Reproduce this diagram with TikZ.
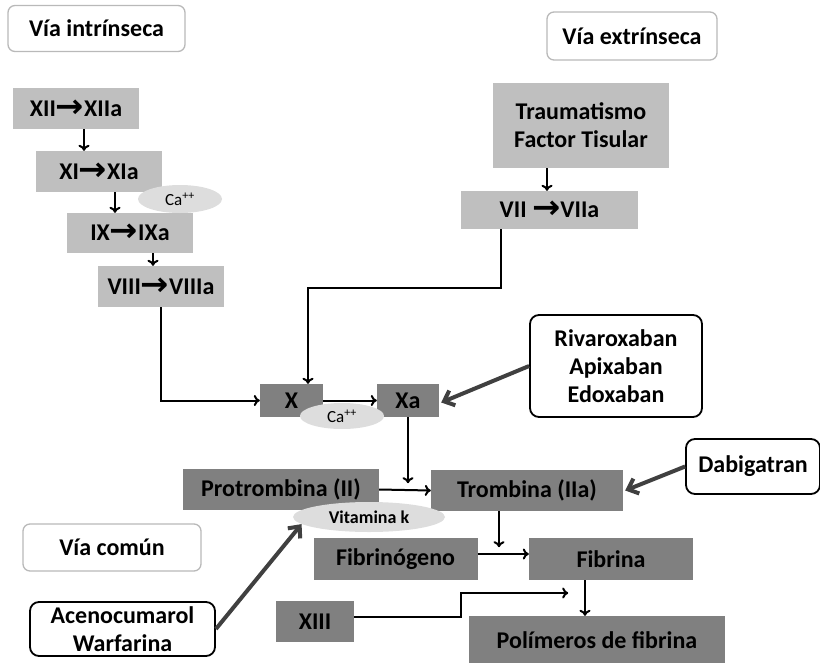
\documentclass[tikz,border=0pt]{standalone}
\usepackage{fontspec}
\setmainfont{Carlito}
\newfontfamily\arrowfont{DejaVu Sans}
\usetikzlibrary{arrows.meta,shapes.geometric}
\definecolor{boxlight}{HTML}{BFBFBF}
\definecolor{boxdark}{HTML}{808080}
\definecolor{cafill}{HTML}{DDDDDD}
\definecolor{drugarrow}{HTML}{404040}
\newcommand{\ra}{{\arrowfont\bfseries\fontsize{26}{26}\selectfont\raisebox{-1pt}{\scalebox{1.3}[1.25]{→}}}}
\tikzset{
  lbl/.style={font=\bfseries\fontsize{24}{28}\selectfont,inner sep=0pt,align=center},
  lightbox/.style={lbl,fill=boxlight},
  darkbox/.style={lbl,fill=boxdark},
  viabox/.style={lbl,draw=gray!55,line width=1.3pt,rounded corners=7pt},
  drugbox/.style={lbl,draw=black,line width=1.8pt,rounded corners=9pt},
  cofactor/.style={ellipse,fill=cafill,inner sep=0pt,font=\fontsize{17}{19}\selectfont},
  flow/.style={-{To[length=6pt,width=11pt]},line width=2pt},
  block/.style={-{Straight Barb[length=9pt,width=16pt]},line width=4pt,draw=drugarrow}
}
\begin{document}
\begin{tikzpicture}[x=1pt,y=-1pt]
\useasboundingbox (0,0) rectangle (820,662);
%titles
\node[viabox,minimum width=177pt,minimum height=46pt] (intr) at (96.5,28.5) {Vía intrínseca};
\node[viabox,minimum width=170pt,minimum height=48pt] (extr) at (632,36) {Vía extrínseca};
\node[viabox,minimum width=178pt,minimum height=47pt] (comun) at (112,547.5) {Vía común};
%
%intrinsic cascade
\node[lightbox,minimum width=126pt,minimum height=41pt] (xii) at (76,108.5) {XII\ra XIIa};
\node[lightbox,minimum width=126pt,minimum height=41pt] (xi) at (99,171.5) {XI\ra XIa};
\node[lightbox,minimum width=126pt,minimum height=40pt] (ix) at (130,233) {IX\ra IXa};
\node[lightbox,minimum width=126pt,minimum height=41pt] (viii) at (161,286.5) {VIII\ra VIIIa};
\node[cofactor,minimum width=84pt,minimum height=28pt] (caA) at (180,199) {Ca\textsuperscript{++}};
\draw[flow] ([xshift=8pt]xii.south) -- ([xshift=8pt]xii.south |- xi.north);
\draw[flow] ([xshift=16pt]xi.south) -- ([xshift=16pt]xi.south |- ix.north);
\draw[flow] ([xshift=23pt]ix.south) -- ([xshift=23pt]ix.south |- viii.north);
%
%extrinsic
\node[lightbox,minimum width=176pt,minimum height=85pt] (trauma) at (581,125.5) {Traumatismo\\Factor Tisular};
\node[lightbox,minimum width=177pt,minimum height=38pt] (vii) at (549.5,210) {VII \ra VIIa};
\draw[flow] ([xshift=-34pt]trauma.south) -- ([xshift=-34pt]trauma.south |- vii.north);
%
%common pathway
\node[darkbox,minimum width=63pt,minimum height=33pt] (x) at (291.5,400.5) {X};
\node[darkbox,minimum width=62pt,minimum height=33pt] (xa) at (408,400.5) {Xa};
\node[cofactor,minimum width=84pt,minimum height=26pt] (caB) at (342,416) {Ca\textsuperscript{++}};
\draw[flow] (viii.south) |- (x.west);
\draw[flow] ([xshift=-48.5pt]vii.south) |- ([xshift=16.5pt]x.north |- 0,288) -- ([xshift=16.5pt]x.north);
\draw[flow] (x.east) -- (xa.west);
%
\node[darkbox,minimum width=196pt,minimum height=41pt] (protro) at (281,489.5) {Protrombina (II)};
\node[darkbox,minimum width=192pt,minimum height=41pt] (tromb) at (527,490.5) {Trombina (IIa)};
\node[cofactor,minimum width=152pt,minimum height=30pt,font=\bfseries\fontsize{18}{20}\selectfont] (vitk) at (369,517) {Vitamina k};
\draw[flow] (protro.east) -- (tromb.west);
\draw[flow] (xa.south) -- ++(0,66) coordinate (xaEnd);
%
\node[darkbox,minimum width=164pt,minimum height=42pt] (fbg) at (395.5,559) {Fibrinógeno};
\node[darkbox,minimum width=164pt,minimum height=42pt] (fbn) at (611,559) {Fibrina};
\node[darkbox,minimum width=78pt,minimum height=41pt] (xiii) at (315,621.5) {XIII};
\node[darkbox,minimum width=256pt,minimum height=48pt] (polim) at (597,640) {Polímeros de fibrina};
\draw[flow] ([xshift=-28pt]tromb.south) -- ++(0,36) coordinate (trEnd);
\draw[flow] ([yshift=5pt]fbg.east) -- ([yshift=5pt]fbn.west);
\draw[flow] ([yshift=4.5pt]xiii.east) -- ++(107,0) -- ++(0,-24) -- ++(107,0) coordinate (xiiiEnd);
\draw[flow] ([xshift=-26pt]fbn.south) -- ([xshift=-26pt]fbn.south |- polim.north);
%
%anticoagulants
\node[drugbox,minimum width=172pt,minimum height=102pt] (riva) at (616,366) {Rivaroxaban\\Apixaban\\Edoxaban};
\node[drugbox,minimum width=134pt,minimum height=55pt] (dabi) at (753,466.5) {Dabigatran};
\node[drugbox,minimum width=185pt,minimum height=54pt] (aceno) at (122.5,629) {Acenocumarol\\Warfarina};
\draw[block] (riva.west) -- ([xshift=2pt,yshift=-2pt]xa.east);
\draw[block] (dabi.west) -- ([xshift=2pt]tromb.east);
\draw[block] (aceno.east) -- (vitk.186);
\end{tikzpicture}
\end{document}
